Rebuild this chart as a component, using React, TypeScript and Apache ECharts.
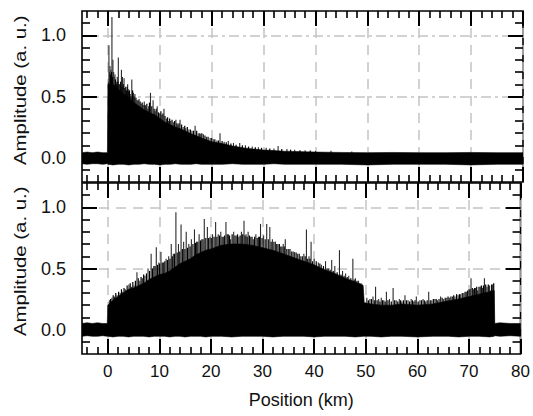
import React, { useEffect, useRef } from 'react';
import * as echarts from 'echarts';

// ---------- axis definitions ----------
const xMin = -5;
const xMax = 80;
const yMin = -0.2;
const yMax = 1.2;
const majorX = [0, 10, 20, 30, 40, 50, 60, 70, 80];
const minorX = [-4, -2, 2, 4, 6, 8, 12, 14, 16, 18, 22, 24, 26, 28, 32, 34, 36, 38, 42, 44, 46, 48, 52, 54, 56, 58, 62, 64, 66, 68, 72, 74, 76, 78];
const majorY = [0, 0.5, 1.0];
const minorY = [-0.1, 0.1, 0.2, 0.3, 0.4, 0.6, 0.7, 0.8, 0.9, 1.1];
const xName = 'Position (km)';
const yName = 'Amplitude (a. u.)';

// ---------- top trace: dense envelope (km, upper, lower) ----------
const topX = [-5, -4, -3, -2, -1, -0.1, 0, 1, 2, 3, 4, 5, 6, 7, 8, 9, 10, 11, 12, 13, 14, 15, 16, 17, 18, 19, 20, 22, 24, 26, 28, 30, 32, 34, 36, 38, 40, 45, 50, 55, 60, 65, 70, 75, 80];
const topUpper = [0.04, 0.045, 0.04, 0.045, 0.04, 0.04, 0.6, 0.6, 0.56, 0.52, 0.49, 0.45, 0.42, 0.39, 0.37, 0.35, 0.32, 0.29, 0.27, 0.25, 0.235, 0.215, 0.195, 0.18, 0.16, 0.145, 0.13, 0.115, 0.095, 0.08, 0.07, 0.062, 0.057, 0.052, 0.05, 0.047, 0.045, 0.042, 0.04, 0.042, 0.04, 0.04, 0.042, 0.04, 0.04];
const topLower = [-0.05, -0.055, -0.05, -0.05, -0.055, -0.05, -0.055, -0.06, -0.055, -0.055, -0.06, -0.055, -0.055, -0.05, -0.055, -0.055, -0.06, -0.055, -0.055, -0.05, -0.055, -0.055, -0.055, -0.05, -0.055, -0.055, -0.055, -0.055, -0.05, -0.055, -0.055, -0.055, -0.05, -0.055, -0.055, -0.055, -0.055, -0.055, -0.06, -0.055, -0.055, -0.055, -0.06, -0.055, -0.055];
// top trace: tall spikes (km, amplitude)
const topSpikes = [
  [0.1, 0.62], [0.19, 0.92], [0.3, 0.7], [0.4, 0.75], [0.58, 0.72], [0.77, 1.15], [0.96, 0.8], [1.1, 0.7], [1.2, 0.66], [1.35, 0.68], [1.6, 0.62],
  [1.8, 0.66], [2.0, 0.82], [2.3, 0.6], [2.6, 0.72], [2.8, 0.66], [3.1, 0.65], [3.4, 0.58], [3.6, 0.55], [3.8, 0.6], [4.0, 0.56], [4.3, 0.52],
  [4.6, 0.64], [4.9, 0.53], [5.2, 0.52], [5.6, 0.47], [6.0, 0.48], [6.4, 0.44], [6.8, 0.43], [7.0, 0.46], [7.3, 0.42], [7.7, 0.4], [8.2, 0.53],
  [8.7, 0.47], [9.1, 0.38], [9.5, 0.42], [10.0, 0.36], [10.4, 0.35], [10.8, 0.4], [11.3, 0.32], [11.7, 0.3], [12.1, 0.3],
  [12.6, 0.29], [13.1, 0.31], [13.5, 0.27], [13.9, 0.31], [14.5, 0.25], [15.0, 0.24], [15.6, 0.23], [16.2, 0.22],
  [16.8, 0.26], [17.4, 0.2], [17.9, 0.19], [18.4, 0.19], [19.0, 0.17], [19.7, 0.16], [20.3, 0.15], [21.0, 0.14],
  [21.6, 0.2], [22.4, 0.13], [23.2, 0.135], [24.2, 0.12], [25.4, 0.12], [26.5, 0.1], [27.8, 0.09], [29.0, 0.085],
  [30.5, 0.08], [32.0, 0.075], [32.8, 0.095], [34.5, 0.07], [36.0, 0.065], [38.0, 0.06], [40.0, 0.055], [43.0, 0.055], [47.0, 0.05],
];
// top trace: short spikes that make the ragged edge of the dense part
const topFuzz = [
  [0.5, 0.68], [0.7, 0.7], [0.85, 0.66], [1.45, 0.64], [1.7, 0.6], [1.9, 0.62], [2.15, 0.6], [2.45, 0.62], [2.7, 0.58], [2.95, 0.6],
  [3.25, 0.57], [3.5, 0.55], [3.7, 0.58], [3.9, 0.54], [4.15, 0.55], [4.45, 0.5], [4.75, 0.55], [5.05, 0.5], [5.4, 0.49], [5.8, 0.47],
  [6.2, 0.46], [6.6, 0.45], [7.15, 0.43], [7.5, 0.44], [7.9, 0.42], [8.0, 0.45], [8.45, 0.42], [8.9, 0.4], [9.3, 0.4], [9.75, 0.37],
  [10.2, 0.38], [10.6, 0.36], [11.0, 0.34], [11.5, 0.33], [11.9, 0.32], [12.35, 0.31], [12.85, 0.3], [13.3, 0.28], [13.7, 0.28],
  [14.2, 0.27], [14.8, 0.26], [15.3, 0.25], [15.9, 0.23], [16.5, 0.22], [17.1, 0.22], [17.7, 0.2], [18.1, 0.2], [18.7, 0.18],
  [19.3, 0.17], [20.0, 0.16], [20.6, 0.15], [21.3, 0.14], [22.0, 0.135], [22.8, 0.125], [23.7, 0.115], [24.7, 0.105], [25.9, 0.1],
  [27.1, 0.09], [28.4, 0.085], [29.6, 0.08], [31.2, 0.075], [33.5, 0.07], [35.2, 0.065], [37.0, 0.06], [39.0, 0.058],
];

// ---------- bottom trace ----------
const botX = [-5, -4, -3, -2, -1, -0.1, 0, 1, 2, 3, 4, 5, 6, 7, 8, 9, 10, 11, 12, 13, 14, 15, 16, 17, 18, 19, 20, 22, 24, 26, 28, 30, 32, 34, 36, 38, 40, 42, 44, 46, 48, 49.5, 49.7, 51, 53, 55, 57, 60, 63, 66, 68, 70, 72, 74, 74.9, 75, 76, 78, 80];
const botUpper = [0.05, 0.055, 0.05, 0.055, 0.05, 0.05, 0.2, 0.24, 0.27, 0.3, 0.33, 0.34, 0.36, 0.38, 0.41, 0.43, 0.45, 0.46, 0.48, 0.51, 0.54, 0.56, 0.58, 0.61, 0.63, 0.65, 0.66, 0.69, 0.7, 0.7, 0.69, 0.67, 0.65, 0.62, 0.59, 0.56, 0.53, 0.49, 0.46, 0.42, 0.39, 0.36, 0.22, 0.21, 0.2, 0.2, 0.21, 0.2, 0.21, 0.235, 0.25, 0.27, 0.29, 0.31, 0.32, 0.05, 0.055, 0.05, 0.05];
const botLower = [-0.055, -0.05, -0.055, -0.055, -0.05, -0.055, -0.055, -0.06, -0.055, -0.055, -0.06, -0.055, -0.055, -0.055, -0.06, -0.055, -0.055, -0.055, -0.06, -0.055, -0.055, -0.06, -0.055, -0.055, -0.055, -0.06, -0.055, -0.055, -0.06, -0.055, -0.055, -0.055, -0.06, -0.055, -0.055, -0.055, -0.06, -0.055, -0.055, -0.055, -0.06, -0.055, -0.055, -0.055, -0.06, -0.055, -0.055, -0.06, -0.055, -0.055, -0.06, -0.055, -0.055, -0.06, -0.055, -0.05, -0.055, -0.05, -0.055];
const botSpikes = [
  [0.3, 0.24], [0.8, 0.26], [1.3, 0.27], [1.8, 0.28], [2.4, 0.3], [2.9, 0.31], [3.4, 0.33], [4.1, 0.37], [4.6, 0.35],
  [5.1, 0.36], [5.65, 0.47], [6.2, 0.4], [6.7, 0.42], [7.2, 0.44], [7.8, 0.5], [8.4, 0.62], [8.9, 0.52], [9.4, 0.675],
  [9.9, 0.55], [10.3, 0.635], [10.8, 0.55], [11.3, 0.58], [11.8, 0.6], [12.3, 0.7], [12.7, 0.62], [13.2, 0.96],
  [13.7, 0.7], [14.2, 0.86], [14.7, 0.72], [15.2, 0.8], [15.7, 0.7], [16.2, 0.74], [16.8, 0.82], [17.2, 0.72],
  [17.7, 0.78], [18.2, 0.74], [18.7, 0.905], [19.3, 0.84], [19.8, 0.76], [20.3, 0.78], [20.9, 0.88], [21.4, 0.78],
  [21.9, 0.8], [22.4, 0.76], [22.9, 0.88], [23.4, 0.78], [23.8, 0.74], [24.4, 0.8], [24.9, 0.77], [25.4, 0.76],
  [25.9, 0.8], [26.4, 0.89], [26.8, 0.78], [27.2, 0.8], [27.7, 0.76], [28.2, 0.74], [28.7, 0.78], [29.2, 0.76],
  [29.6, 0.865], [30.2, 0.77], [30.8, 0.865], [31.4, 0.84], [31.9, 0.74], [32.5, 0.72], [33.0, 0.7], [33.5, 0.68],
  [34.0, 0.7], [34.4, 0.74], [35.0, 0.66], [35.6, 0.64], [36.2, 0.635], [36.8, 0.62], [37.4, 0.6], [38.0, 0.62],
  [38.5, 0.82], [39.0, 0.6], [39.4, 0.72], [40.0, 0.58], [40.8, 0.55], [41.4, 0.53], [42.2, 0.56], [42.8, 0.5],
  [43.4, 0.57], [44.0, 0.52], [44.9, 0.65], [45.5, 0.48], [46.1, 0.46], [46.7, 0.44], [47.5, 0.58], [48.0, 0.42],
  [48.6, 0.4], [49.1, 0.38],
  [50.2, 0.26], [50.8, 0.25], [51.4, 0.27], [51.9, 0.35], [52.5, 0.25], [53.0, 0.26], [53.5, 0.24], [54.0, 0.31],
  [54.6, 0.25], [55.3, 0.34], [55.9, 0.24], [56.5, 0.25], [57.0, 0.23], [57.6, 0.28], [58.2, 0.24], [58.8, 0.25],
  [59.3, 0.23], [59.8, 0.27], [60.5, 0.24], [61.1, 0.25], [61.6, 0.23], [62.2, 0.31], [62.8, 0.24], [63.4, 0.25],
  [63.9, 0.24], [64.5, 0.27], [65.1, 0.25], [65.7, 0.26], [66.2, 0.26], [66.8, 0.27], [67.3, 0.27], [67.9, 0.28],
  [68.4, 0.29], [69.0, 0.3], [69.5, 0.31], [70.0, 0.33], [70.4, 0.42], [70.9, 0.33], [71.3, 0.34], [71.7, 0.32],
  [72.2, 0.35], [72.6, 0.34], [73.0, 0.42], [73.5, 0.35], [74.0, 0.36], [74.2, 0.32], [74.6, 0.37],
];
const botFuzz = [
  [0.55, 0.25], [1.05, 0.28], [1.55, 0.3], [2.1, 0.31], [2.65, 0.33], [3.15, 0.34], [3.75, 0.36], [4.35, 0.38], [4.85, 0.39],
  [5.35, 0.4], [5.9, 0.42], [6.45, 0.43], [6.95, 0.45], [7.5, 0.46], [8.1, 0.48], [8.65, 0.5], [9.15, 0.52], [9.65, 0.53],
  [10.05, 0.54], [10.55, 0.55], [11.05, 0.56], [11.55, 0.57], [12.05, 0.58], [12.5, 0.6], [12.95, 0.62], [13.45, 0.63],
  [13.95, 0.64], [14.45, 0.66], [14.95, 0.66], [15.45, 0.67], [15.95, 0.68], [16.5, 0.7], [17.0, 0.71], [17.45, 0.72],
  [17.95, 0.73], [18.45, 0.74], [19.0, 0.75], [19.55, 0.75], [20.05, 0.75], [20.6, 0.76], [21.15, 0.76], [21.65, 0.77],
  [22.15, 0.76], [22.65, 0.77], [23.15, 0.78], [23.6, 0.77], [24.1, 0.78], [24.65, 0.77], [25.15, 0.78], [25.65, 0.77],
  [26.15, 0.78], [26.6, 0.77], [27.0, 0.76], [27.45, 0.77], [27.95, 0.76], [28.45, 0.76], [28.95, 0.75], [29.4, 0.76],
  [29.9, 0.75], [30.5, 0.74], [31.1, 0.74], [31.65, 0.72], [32.2, 0.72], [32.75, 0.7], [33.25, 0.7], [33.75, 0.68],
  [34.2, 0.68], [34.7, 0.66], [35.3, 0.66], [35.9, 0.64], [36.5, 0.63], [37.1, 0.62], [37.7, 0.6], [38.25, 0.6],
  [38.75, 0.58], [39.2, 0.58], [39.7, 0.56], [40.4, 0.56], [41.1, 0.54], [41.8, 0.52], [42.5, 0.5], [43.1, 0.49],
  [43.7, 0.48], [44.45, 0.47], [45.2, 0.45], [45.8, 0.44], [46.4, 0.43], [47.1, 0.42], [47.75, 0.41], [48.3, 0.4],
  [48.85, 0.38], [49.3, 0.37],
  [50.5, 0.24], [51.1, 0.25], [51.65, 0.24], [52.2, 0.24], [52.75, 0.23], [53.25, 0.24], [53.75, 0.23], [54.3, 0.24],
  [54.95, 0.23], [55.6, 0.24], [56.2, 0.23], [56.75, 0.24], [57.3, 0.24], [57.9, 0.24], [58.5, 0.23], [59.05, 0.24],
  [59.55, 0.24], [60.15, 0.23], [60.8, 0.24], [61.35, 0.24], [61.9, 0.24], [62.5, 0.24], [63.1, 0.25], [63.65, 0.25],
  [64.2, 0.25], [64.8, 0.26], [65.4, 0.26], [65.95, 0.27], [66.5, 0.27], [67.05, 0.28], [67.6, 0.29], [68.15, 0.29],
  [68.7, 0.3], [69.25, 0.31], [69.75, 0.32], [70.2, 0.33], [70.65, 0.34], [71.1, 0.34], [71.5, 0.35], [71.95, 0.35],
  [72.4, 0.36], [72.8, 0.36], [73.25, 0.37], [73.75, 0.37], [74.4, 0.37], [74.8, 0.38],
];

const FONT = '"Liberation Sans", Arial, Helvetica, sans-serif';
const GRID_COLOR = '#c4c4c4';

function makeXAxes(g: number, showLabels: boolean) {
  const base = { type: 'value', gridIndex: g, min: xMin, max: xMax, axisLine: { show: false, onZero: false }, axisLabel: { show: false }, splitLine: { show: false } };
  return [
    {
      ...base, position: 'bottom',
      axisTick: { show: true, inside: true, length: 15, lineStyle: { color: '#000', width: 2 }, customValues: majorX },
      axisLabel: { show: showLabels, customValues: majorX, margin: 9, color: '#111', fontSize: 17, fontFamily: FONT },
      splitLine: { show: true, lineStyle: { color: GRID_COLOR, width: 1.5, type: [10, 7] } },
      name: showLabels ? xName : '', nameLocation: 'middle', nameGap: 37,
      nameTextStyle: { color: '#111', fontSize: 18, fontFamily: FONT },
    },
    { ...base, position: 'bottom', axisTick: { show: true, inside: true, length: 7, lineStyle: { color: '#000', width: 1.6 }, customValues: minorX } },
    { ...base, position: 'top', axisTick: { show: true, inside: true, length: 15, lineStyle: { color: '#000', width: 2 }, customValues: majorX } },
    { ...base, position: 'top', axisTick: { show: true, inside: true, length: 7, lineStyle: { color: '#000', width: 1.6 }, customValues: minorX } },
  ];
}

function makeYAxes(g: number, hType: any) {
  const base = { type: 'value', gridIndex: g, min: yMin, max: yMax, axisLine: { show: false, onZero: false }, axisLabel: { show: false }, splitLine: { show: false } };
  return [
    {
      ...base, position: 'left',
      axisTick: { show: true, inside: true, length: 15, lineStyle: { color: '#000', width: 2 }, customValues: majorY },
      axisLabel: { show: true, customValues: majorY, margin: 16, color: '#111', fontSize: 18, fontFamily: FONT, formatter: (v: number) => v.toFixed(1) },
      splitLine: { show: true, lineStyle: { color: GRID_COLOR, width: 1.5, type: hType } },
    },
    { ...base, position: 'left', axisTick: { show: true, inside: true, length: 8, lineStyle: { color: '#000', width: 1.6 }, customValues: minorY } },
    { ...base, position: 'right', axisTick: { show: true, inside: true, length: 15, lineStyle: { color: '#000', width: 2 }, customValues: majorY } },
    { ...base, position: 'right', axisTick: { show: true, inside: true, length: 8, lineStyle: { color: '#000', width: 1.6 }, customValues: minorY } },
  ];
}

function bodySeries(g: number, xs: number[], up: number[], lo: number[]) {
  return {
    type: 'custom', xAxisIndex: g * 4, yAxisIndex: g * 4, clip: true, silent: true, z: 3,
    data: [[xs[0], up[0]]],
    renderItem: (_p: any, api: any) => {
      const pts: number[][] = [];
      for (let i = 0; i < xs.length; i++) pts.push(api.coord([xs[i], up[i]]));
      for (let i = xs.length - 1; i >= 0; i--) pts.push(api.coord([xs[i], lo[i]]));
      return { type: 'polygon', shape: { points: pts }, style: { fill: '#000', stroke: '#000', lineWidth: 0.6 } };
    },
  };
}

function spikeSeries(g: number, spikes: number[][], color: string, width: number) {
  return {
    type: 'custom', xAxisIndex: g * 4, yAxisIndex: g * 4, clip: true, silent: true, z: 2,
    data: spikes,
    renderItem: (_p: any, api: any) => {
      const x = api.value(0);
      const y = api.value(1);
      const p0 = api.coord([x, 0]);
      const p1 = api.coord([x, y]);
      return { type: 'line', shape: { x1: p0[0], y1: p0[1], x2: p1[0], y2: p1[1] }, style: { stroke: color, lineWidth: width } };
    },
  };
}

export default function App() {
  const ref = useRef<HTMLDivElement>(null);
  useEffect(() => {
    document.body.style.margin = '0';
    const chart = echarts.init(ref.current!, null, { renderer: 'svg' });
    const nameText = (yBottom: number) => ({
      type: 'text', x: 20.5, y: yBottom, rotation: Math.PI / 2, scaleX: 1.2, scaleY: 1, silent: true,
      style: { text: yName, fill: '#111', font: `17px ${FONT}`, textAlign: 'left', align: 'left', textVerticalAlign: 'middle', verticalAlign: 'middle' },
    });
    chart.setOption({
      animation: false,
      backgroundColor: '#fff',
      grid: [
        { left: 82, top: 11, width: 441, height: 171, show: true, borderColor: '#000', borderWidth: 1.6, backgroundColor: 'transparent', containLabel: false },
        { left: 82, top: 183, width: 441, height: 171, show: true, borderColor: '#000', borderWidth: 1.6, backgroundColor: 'transparent', containLabel: false },
      ],
      xAxis: [...makeXAxes(0, false), ...makeXAxes(1, true)],
      yAxis: [...makeYAxes(0, [10, 4, 3, 4]), ...makeYAxes(1, [10, 7])],
      graphic: [nameText(165), nameText(336)],
      series: [
        spikeSeries(0, topSpikes, '#2a2a2a', 1.1),
        spikeSeries(0, topFuzz, '#000', 1.2),
        bodySeries(0, topX, topUpper, topLower),
        spikeSeries(1, botSpikes, '#2a2a2a', 1.1),
        spikeSeries(1, botFuzz, '#000', 1.2),
        bodySeries(1, botX, botUpper, botLower),
      ],
    });
    return () => chart.dispose();
  }, []);
  return <div ref={ref} style={{ width: 533, height: 416 }} />;
}
